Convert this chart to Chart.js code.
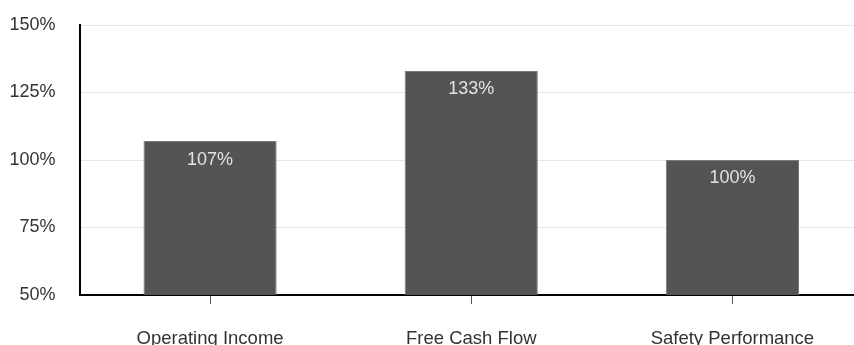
<!DOCTYPE html>
<html>
<head>
<meta charset="utf-8">
<script src="https://cdn.jsdelivr.net/npm/chart.js@4"></script>
<style>
  html, body { margin: 0; padding: 0; background: #fff; overflow: hidden; }
  #wrap { width: 863px; height: 345px; }
</style>
</head>
<body>
<div id="wrap"><canvas id="grafico" width="863" height="345"></canvas></div>
<script>
const categorias = ['Operating Income', 'Free Cash Flow', 'Safety Performance'];
const valores = [107, 133, 100];
const ticksY = [50, 75, 100, 125, 150];

const fonte = "'Liberation Sans', Arial, sans-serif";

// rótulos dentro da barra, perto do topo
const rotulosBarra = {
    id: 'rotulosBarra',
    afterDatasetsDraw(chart) {
        const ctx = chart.ctx;
        const meta = chart.getDatasetMeta(0);
        ctx.save();
        ctx.font = '18px ' + fonte;
        ctx.fillStyle = '#e2e2e2';
        ctx.textAlign = 'center';
        ctx.textBaseline = 'middle';
        meta.data.forEach((bar, i) => {
            ctx.fillText(valores[i] + '%', bar.x, bar.y + 18.5);
        });
        ctx.restore();
    }
};

const ctx = document.getElementById('grafico').getContext('2d');
const grafico = new Chart(ctx, {
    type: 'bar',
    data: {
        labels: categorias,
        datasets: [{
            data: valores,
            backgroundColor: '#545454',
            borderColor: '#7a7a7a',
            borderWidth: 1,
            categoryPercentage: 1,
            barPercentage: 0.51
        }]
    },
    plugins: [rotulosBarra],
    options: {
        responsive: false,
        animation: false,
        layout: { padding: 0 },
        plugins: {
            legend: { display: false },
            tooltip: { enabled: false }
        },
        scales: {
            x: {
                offset: true,
                grid: {
                    offset: false,
                    drawOnChartArea: false,
                    drawTicks: true,
                    tickLength: 9,
                    color: '#555'
                },
                border: { color: '#000', width: 2 },
                ticks: {
                    color: '#333',
                    font: { size: 18.5, family: fonte },
                    padding: 24,
                    maxRotation: 0
                },
                afterFit(axis) {
                    axis.height = 50;
                    axis.paddingLeft = 0;
                    axis.paddingRight = 0;
                }
            },
            y: {
                min: 50,
                max: 150,
                afterBuildTicks(axis) { axis.ticks = ticksY.map(v => ({ value: v })); },
                grid: { color: '#e6e6e6', drawTicks: false },
                border: { color: '#000', width: 2 },
                ticks: {
                    color: '#333',
                    font: { size: 18, family: fonte },
                    padding: 24,
                    callback: v => v + '%'
                },
                afterFit(axis) {
                    axis.width = 79.5;
                    axis.paddingTop = 25;
                    axis.paddingBottom = 0;
                }
            }
        }
    }
});
</script>
</body>
</html>
